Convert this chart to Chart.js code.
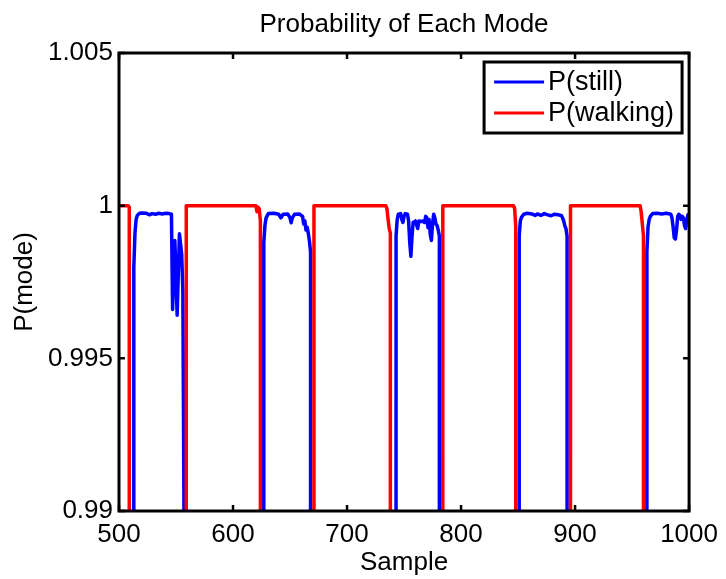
<!DOCTYPE html>
<html>
<head>
<meta charset="utf-8">
<script src="https://cdn.jsdelivr.net/npm/chart.js@4.4.1/dist/chart.umd.min.js"></script>
<style>
  html, body { margin: 0; padding: 0; background: #ffffff; }
  canvas { display: block; }
</style>
</head>
<body>
<canvas id="c" width="726" height="579"></canvas>
<script>
// ---- data ----
const chartTitle = 'Probability of Each Mode';
const xTitle = 'Sample';
const yTitle = 'P(mode)';
const seriesNames = ['P(still)', 'P(walking)'];

const sampleTicks = [500, 600, 700, 800, 900, 1000];
const sampleTickLabels = ['500', '600', '700', '800', '900', '1000'];
const probTicks = [0.99, 0.995, 1, 1.005];
const probTickLabels = ['0.99', '0.995', '1', '1.005'];

// P(still)
const stillSamples = [
  500, 512, 513, 514, 515, 516, 518, 520, 524, 527, 529, 532, 535, 538, 541, 544, 546,
  547, 549, 551, 553, 555, 556, 557, 558,
  626, 627, 628, 629, 631, 636, 640, 642, 644, 648, 650, 651, 652, 654, 658, 661, 662, 663, 664, 665, 666, 667, 668, 669,
  742, 743, 744, 745, 747, 748, 749, 750, 751, 753, 754, 755, 756, 757, 758, 759, 760, 762, 763, 765, 766, 768, 769, 770, 771, 772, 773, 774, 775, 776, 777, 778, 779, 780, 781, 782,
  850, 851, 852, 853, 855, 858, 862, 865, 867, 870, 873, 876, 879, 882, 885, 888, 889, 890, 891, 892, 893, 894,
  962, 963, 964, 965, 966, 968, 972, 976, 980, 984, 985, 986, 987, 988, 989, 990, 991, 992, 993, 994, 995, 996, 997, 998, 999, 1000
];
const stillValues = [
  0, 0, 0.9980, 0.99910, 0.99955, 0.99968, 0.99975, 0.99976, 0.99975, 0.99970, 0.99974, 0.99972, 0.99975, 0.99973, 0.99975, 0.99974, 0.99972,
  0.99660, 0.99886, 0.99641, 0.99908, 0.99840, 0.99720, 0.99000, 0,
  0, 0.99880, 0.99935, 0.99960, 0.99974, 0.99975, 0.99972, 0.99960, 0.99972, 0.99973, 0.99960, 0.99944, 0.99960, 0.99972, 0.99973, 0.99965, 0.99940, 0.99950, 0.99920, 0.99930, 0.99910, 0.99885, 0.99850, 0,
  0, 0.99900, 0.99955, 0.99972, 0.99974, 0.99955, 0.99945, 0.99965, 0.99974, 0.99972, 0.99950, 0.99880, 0.99834, 0.99900, 0.99946, 0.99946, 0.99950, 0.99925, 0.99950, 0.99948, 0.99950, 0.99945, 0.99965, 0.99960, 0.99928, 0.99955, 0.99905, 0.99886, 0.99940, 0.99972, 0.99960, 0.99940, 0.99935, 0.99920, 0.99900, 0,
  0, 0.99900, 0.99950, 0.99962, 0.99972, 0.99975, 0.99973, 0.99968, 0.99973, 0.99968, 0.99974, 0.99970, 0.99967, 0.99972, 0.99970, 0.99968, 0.99960, 0.99950, 0.99935, 0.99925, 0.99900, 0,
  0, 0.99850, 0.99930, 0.99955, 0.99965, 0.99974, 0.99975, 0.99973, 0.99975, 0.99972, 0.99960, 0.99930, 0.99895, 0.99891, 0.99920, 0.99965, 0.99972, 0.99968, 0.99955, 0.99965, 0.99960, 0.99935, 0.99925, 0.99955, 0.99970, 0.99968
];

// P(walking)
const walkSamples = [
  500, 508, 509, 510,
  558, 559, 620, 621, 622, 623, 624, 625,
  670, 671, 734, 735, 736, 737, 738, 739,
  783, 784, 846, 847, 848, 849,
  895, 896, 957, 958, 959, 960, 961,
  1000
];
const walkValues = [
  1, 1, 0.99995, 0,
  0, 1, 1, 0.99980, 0.99995, 0.99990, 0.99950, 0,
  0, 1, 1, 0.99990, 0.99955, 0.99925, 0.99910, 0,
  0, 1, 1, 0.99990, 0.99930, 0,
  0, 1, 1, 0.99980, 0.99940, 0.99900, 0,
  0
];

const FONT = '"Liberation Sans", Arial, Helvetica, sans-serif';

function toPoints(xs, ys) { return xs.map((x, i) => ({ x: x, y: ys[i] })); }

const framePlugin = {
  id: 'matlabFrame',
  afterDatasetsDraw(chart) {
    const ctx = chart.ctx;
    const a = chart.chartArea;
    const xs = chart.scales.x, ys = chart.scales.y;
    ctx.save();
    ctx.strokeStyle = '#000000';
    ctx.lineCap = 'butt';
    // inward tick marks on all four sides
    ctx.lineWidth = 2.5;
    const tl = 6;
    xs.ticks.forEach(t => {
      const px = xs.getPixelForValue(t.value);
      ctx.beginPath();
      ctx.moveTo(px, a.bottom); ctx.lineTo(px, a.bottom - tl);
      ctx.moveTo(px, a.top); ctx.lineTo(px, a.top + tl);
      ctx.stroke();
    });
    ys.ticks.forEach(t => {
      const py = ys.getPixelForValue(t.value);
      ctx.beginPath();
      ctx.moveTo(a.left, py); ctx.lineTo(a.left + tl, py);
      ctx.moveTo(a.right, py); ctx.lineTo(a.right - tl, py);
      ctx.stroke();
    });
    // axes box
    ctx.lineWidth = 3;
    ctx.strokeRect(a.left, a.top, a.right - a.left, a.bottom - a.top);
    ctx.restore();
  },
  afterDraw(chart) {
    // legend box in the upper-right corner of the axes
    const ctx = chart.ctx;
    const a = chart.chartArea;
    const bx = a.right - 205, by = a.top + 9, bw = 198, bh = 71;
    ctx.save();
    ctx.fillStyle = '#ffffff';
    ctx.fillRect(bx, by, bw, bh);
    ctx.lineWidth = 3;
    ctx.strokeStyle = '#000000';
    ctx.strokeRect(bx, by, bw, bh);
    ctx.font = '27px ' + FONT;
    ctx.textBaseline = 'middle';
    ctx.textAlign = 'left';
    chart.data.datasets.forEach((ds, i) => {
      const y = by + 20 + i * 31;
      ctx.strokeStyle = ds.borderColor;
      ctx.lineWidth = 3;
      ctx.beginPath();
      ctx.moveTo(bx + 10, y); ctx.lineTo(bx + 60, y);
      ctx.stroke();
      ctx.fillStyle = '#000000';
      ctx.fillText(ds.label, bx + 64, y + 1);
    });
    ctx.restore();
  }
};

new Chart(document.getElementById('c'), {
  type: 'line',
  data: {
    datasets: [
      { label: seriesNames[0], data: toPoints(stillSamples, stillValues), borderColor: '#0000ff',
        borderWidth: 3.5, borderJoinStyle: 'round', borderCapStyle: 'round',
        pointRadius: 0, tension: 0, fill: false, order: 1 },
      { label: seriesNames[1], data: toPoints(walkSamples, walkValues), borderColor: '#ff0000',
        borderWidth: 3.5, borderJoinStyle: 'round', borderCapStyle: 'round',
        pointRadius: 0, tension: 0, fill: false, order: 0 }
    ]
  },
  options: {
    responsive: false,
    animation: false,
    devicePixelRatio: 1,
    layout: { padding: { left: 0, right: 34, top: 0, bottom: 0 } },
    plugins: {
      legend: { display: false },
      tooltip: { enabled: false },
      title: {
        display: true, text: chartTitle, color: '#000000', fullSize: false,
        font: { family: FONT, size: 26, weight: 'normal' },
        padding: { top: 9, bottom: 12.8 }
      }
    },
    scales: {
      x: {
        type: 'linear', min: 500, max: 1000,
        afterBuildTicks: s => { s.ticks = sampleTicks.map(v => ({ value: v })); },
        afterFit: s => { s.height = 68; },
        grid: { display: false, drawTicks: false },
        border: { display: false },
        ticks: {
          color: '#000000', padding: 8, maxRotation: 0, autoSkip: false,
          font: { family: FONT, size: 26 },
          callback: (v, i) => sampleTickLabels[i]
        },
        title: { display: true, text: xTitle, color: '#000000',
          font: { family: FONT, size: 26 }, padding: { top: 0, bottom: 1 } }
      },
      y: {
        type: 'linear', min: 0.99, max: 1.005,
        afterBuildTicks: s => { s.ticks = probTicks.map(v => ({ value: v })); },
        afterFit: s => { s.width = 119; },
        grid: { display: false, drawTicks: false },
        border: { display: false },
        ticks: {
          color: '#000000', padding: 6, autoSkip: false,
          font: { family: FONT, size: 26 },
          callback: (v, i) => probTickLabels[i]
        },
        title: { display: true, text: yTitle, color: '#000000',
          font: { family: FONT, size: 26 }, padding: { top: 9, bottom: 0 } }
      }
    }
  },
  plugins: [framePlugin]
});
</script>
</body>
</html>
